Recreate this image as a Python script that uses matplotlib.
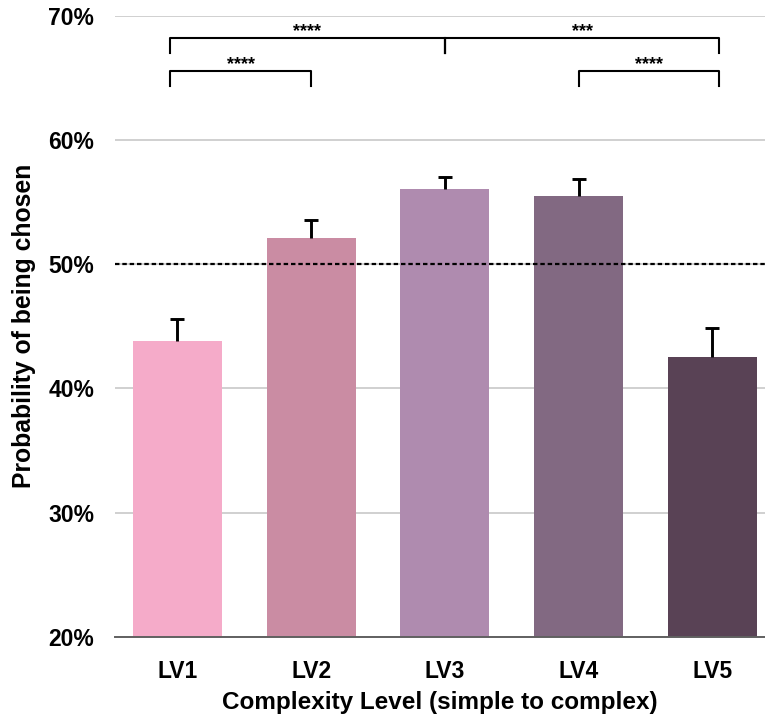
import matplotlib
matplotlib.use("Agg")
import matplotlib.pyplot as plt
import numpy as np

plt.rcParams['font.family'] = ['Liberation Sans', 'DejaVu Sans']

# Probability of being chosen per complexity level (%), with upper error
levels = ["LV1", "LV2", "LV3", "LV4", "LV5"]
means = [43.8, 52.1, 56.05, 55.5, 42.5]
errors = [1.8, 1.45, 0.95, 1.4, 2.35]
colors = ["#F5ABC9", "#CA8CA3", "#AF8BAF", "#826982", "#594255"]
y_ticks = [20, 30, 40, 50, 60, 70]
chance_level = 50

# Significance brackets: (left, right, bar height, label)
brackets = [
    (0, 2, 68.2, "****"),
    (2, 4, 68.2, "***"),
    (0, 1, 65.55, "****"),
    (3, 4, 65.55, "****"),
]

fig = plt.figure(figsize=(7.65, 7.15), dpi=100)
ax = fig.add_axes([0.1503, 0.1095, 0.8497, 0.8681])

x = np.arange(len(levels))
ax.bar(x, means, width=0.665, color=colors, zorder=2)

# Upper-only error bars: stem from bar top, cap at the end
tops = np.array(means) + np.array(errors)
ax.vlines(x, means, tops, color='black', lw=2.1, zorder=3)
ax.plot(x, tops, ls='none', marker='_', markersize=9.6,
        markeredgewidth=2.1, color='black', zorder=3)

ax.axhline(chance_level, color='black', lw=1.6, ls=(0, (2.0, 1.3)), zorder=4)

ax.set_ylim(20, 70)
ax.set_xlim(-0.467, 4.393)
ax.set_yticks(y_ticks)
ax.set_yticklabels([f"{t}%" for t in y_ticks], fontsize=16.5, fontweight='bold')
ax.set_xticks(x)
ax.set_xticklabels(levels, fontsize=16.5, fontweight='bold')
ax.tick_params(axis='x', length=0, pad=16.5)
ax.tick_params(axis='y', length=0, pad=15)
ax.yaxis.grid(True, color='#c8c8c8', lw=1.2, zorder=0)
for s in ['top', 'right', 'left']:
    ax.spines[s].set_visible(False)
ax.spines['bottom'].set_color('#606060')
ax.spines['bottom'].set_linewidth(1.4)

ax.set_xlabel("Complexity Level (simple to complex)", fontsize=17.5,
              fontweight='bold', labelpad=6)
ax.set_ylabel("Probability of being chosen", fontsize=17.8,
              fontweight='bold', labelpad=9)

# Bracket ends sit slightly outside the outermost bars
def bx(i):
    if i == 0:
        return -0.056
    if i == 4:
        return 4.05
    return i

tick_drop = 1.2
for a, b, h, label in brackets:
    xa, xb = bx(a), bx(b)
    ax.plot([xa, xa, xb, xb], [h - tick_drop, h, h, h - tick_drop],
            color='black', lw=1.5, clip_on=False, zorder=5)
    ax.text((xa + xb) / 2, h - 0.15, label, ha='center', va='bottom',
            fontsize=13, fontweight='bold', zorder=5)
# Middle tick of the wide bracket pair at LV3
ax.plot([2, 2], [68.2 - tick_drop, 68.2], color='black', lw=1.5, zorder=5)

fig.savefig("out.png", dpi=100)
